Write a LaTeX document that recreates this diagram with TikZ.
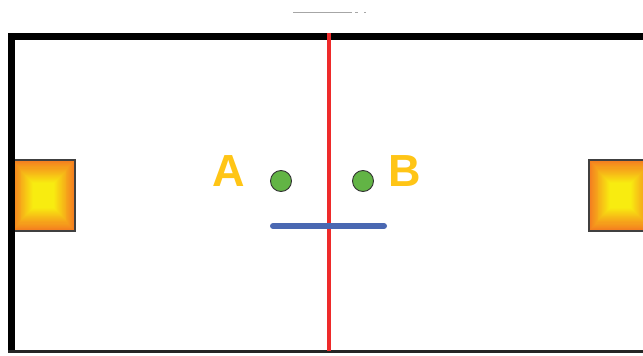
\documentclass[tikz,border=0pt]{standalone}
\usepackage{fontspec}
\setmainfont{Liberation Sans}
\definecolor{gold}{HTML}{FFC516}
\definecolor{dotgreen}{HTML}{62B445}
\definecolor{barblue}{HTML}{4A68B2}
\definecolor{wallred}{HTML}{EE2A2A}
\definecolor{sqorange}{HTML}{F47B20}
\definecolor{sqyellow}{HTML}{F8EC10}
\begin{document}
\begin{tikzpicture}[x=1pt,y=-1pt,
  sqedge/.style={draw=black!75,line width=1.2pt},
  dot/.style={circle,draw=black!80,line width=0.9pt,fill=dotgreen,minimum size=21pt,inner sep=0pt},
  lbl/.style={text=gold,font=\fontsize{45}{45}\selectfont\bfseries,inner sep=0pt}]
\useasboundingbox (0,0) rectangle (643,356);
\fill[white] (0,0) rectangle (643,356);
% faint top mark
\draw[gray!70,line width=1pt] (293,12) -- (352,12);
\draw[gray!70,line width=1pt] (355,12) -- (358,12);
\draw[gray!70,line width=1pt] (364,12) -- (366,12);
% squares with rectangular gradient
\foreach \i in {0,...,24}{
  \pgfmathsetmacro{\p}{min(100,\i*4.6)}
  \pgfmathsetmacro{\dx}{\i*31.5*0.72/24}
  \pgfmathsetmacro{\dy}{\i*35.5*0.72/24}
  \fill[sqyellow!\p!sqorange] (12+\dx,160+\dy) rectangle (75-\dx,231-\dy);
  \fill[sqyellow!\p!sqorange] (589+\dx,160+\dy) rectangle (652-\dx,231-\dy);
}
\draw[sqedge] (12,160) rectangle (75,231);
\draw[sqedge] (589,160) rectangle (652,231);
% frame
\draw[black,line width=7pt] (11.5,352) -- (11.5,36.5) -- (650,36.5);
\draw[black!85,line width=2.5pt] (8,351.5) -- (650,351.5);
% red wall
\coordinate (rt) at (329,33);
\coordinate (rb) at (329,351);
\draw[wallred,line width=4.5pt] (rt) -- (rb);
% blue bar
\coordinate (bl) at (273,226);
\coordinate (br) at (384,226);
\draw[barblue,line width=6pt,line cap=round] (bl) -- (br);
% dots and labels
\node[dot] (a) at (281,181) {};
\node[dot] (b) at (363,181) {};
\node[lbl] (la) at (229,171) {A};
\node[lbl] (lb) at (405,171) {B};
\end{tikzpicture}
\end{document}
